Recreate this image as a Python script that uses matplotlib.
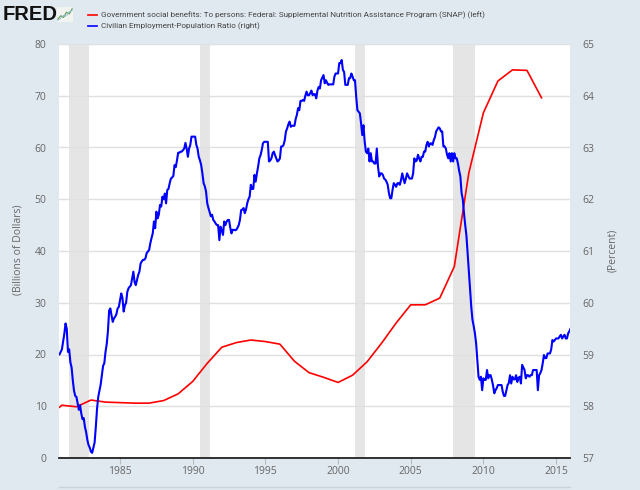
import numpy as np
import matplotlib
matplotlib.use("Agg")
import matplotlib.pyplot as plt
from matplotlib.lines import Line2D

plt.rcParams['font.family'] = ['Open Sans', 'DejaVu Sans']

# ---------------- data ----------------
snap_years = list(range(1980, 2015))
snap_values = [8.0, 10.2, 9.9, 11.2, 10.8, 10.7, 10.6, 10.6, 11.1, 12.4, 14.8,
               18.3, 21.4, 22.3, 22.8, 22.5, 22.0, 18.7, 16.5, 15.6, 14.6,
               16.0, 18.6, 22.2, 26.1, 29.6, 29.6, 30.9, 37.0, 55.1, 66.7,
               72.85, 75.0, 74.9, 69.6]

# Civilian employment-population ratio, monthly, starting October 1980
emp_start_year = 1980
emp_start_month = 10
emp_ratio = [
    59.00, 59.00, 59.05,                                                         # 1980 Oct-Dec
    59.10, 59.25, 59.40, 59.60, 59.50, 59.05, 59.10, 58.85, 58.75, 58.50, 58.30, 58.20,  # 1981
    58.18, 58.06, 57.93, 58.02, 57.86, 57.75, 57.77, 57.60, 57.50, 57.35, 57.25, 57.20,  # 1982
    57.12, 57.10, 57.20, 57.30, 57.60, 57.95, 58.18, 58.30, 58.42, 58.60, 58.78, 58.83,  # 1983
    59.05, 59.20, 59.45, 59.85, 59.89, 59.75, 59.63, 59.70, 59.73, 59.78, 59.89, 59.92,  # 1984
    60.05, 60.18, 60.09, 59.83, 59.95, 60.00, 60.21, 60.28, 60.31, 60.34, 60.47, 60.60,  # 1985
    60.40, 60.34, 60.44, 60.54, 60.60, 60.76, 60.80, 60.83, 60.83, 60.86, 60.96, 60.99,  # 1986
    61.02, 61.15, 61.25, 61.34, 61.57, 61.44, 61.76, 61.63, 61.70, 61.89, 61.86, 62.05,  # 1987
    62.00, 62.11, 61.92, 62.18, 62.20, 62.31, 62.40, 62.42, 62.45, 62.66, 62.62, 62.75,  # 1988
    62.90, 62.90, 62.92, 62.92, 62.95, 62.98, 63.09, 62.98, 62.82, 62.98, 63.05, 63.21,  # 1989
    63.21, 63.21, 63.21, 63.05, 62.98, 62.82, 62.75, 62.66, 62.50, 62.31, 62.25, 62.15,  # 1990
    61.92, 61.83, 61.75, 61.67, 61.70, 61.60, 61.57, 61.53, 61.50, 61.50, 61.21, 61.47,  # 1991
    61.40, 61.31, 61.57, 61.50, 61.57, 61.60, 61.60, 61.45, 61.34, 61.41, 61.41, 61.40,  # 1992
    61.41, 61.45, 61.50, 61.60, 61.79, 61.80, 61.83, 61.73, 61.80, 61.92, 62.00, 62.05,  # 1993
    62.28, 62.20, 62.20, 62.47, 62.34, 62.50, 62.63, 62.79, 62.85, 62.95, 63.08, 63.11,  # 1994
    63.11, 63.11, 63.11, 62.73, 62.75, 62.79, 62.89, 62.92, 62.85, 62.79, 62.73, 62.75,  # 1995
    62.79, 63.02, 63.02, 63.05, 63.14, 63.31, 63.37, 63.45, 63.50, 63.40, 63.42, 63.42,  # 1996
    63.42, 63.55, 63.63, 63.76, 63.72, 63.90, 63.90, 63.92, 63.90, 64.00, 64.08, 64.01,  # 1997
    64.01, 64.05, 64.10, 64.01, 64.03, 64.03, 63.95, 64.10, 64.17, 64.14, 64.30, 64.35,  # 1998
    64.40, 64.24, 64.30, 64.25, 64.21, 64.22, 64.22, 64.22, 64.22, 64.37, 64.43, 64.43,  # 1999
    64.43, 64.63, 64.63, 64.69, 64.50, 64.46, 64.21, 64.21, 64.21, 64.34, 64.34, 64.43,  # 2000
    64.37, 64.30, 64.30, 63.98, 63.72, 63.69, 63.66, 63.47, 63.24, 63.43, 63.11, 62.92,  # 2001
    62.89, 62.98, 62.73, 62.89, 62.73, 62.73, 62.69, 62.69, 62.98, 62.63, 62.44, 62.50,  # 2002
    62.50, 62.47, 62.40, 62.38, 62.34, 62.28, 62.12, 62.02, 62.02, 62.18, 62.31, 62.28,  # 2003
    62.24, 62.31, 62.31, 62.28, 62.37, 62.50, 62.40, 62.31, 62.40, 62.50, 62.45, 62.40,  # 2004
    62.40, 62.40, 62.50, 62.79, 62.73, 62.75, 62.86, 62.79, 62.73, 62.82, 62.82, 62.92,  # 2005
    62.92, 63.05, 63.11, 63.02, 63.08, 63.08, 63.05, 63.14, 63.20, 63.31, 63.35, 63.39,  # 2006
    63.37, 63.31, 63.31, 63.02, 63.02, 62.98, 62.86, 62.79, 62.89, 62.73, 62.89, 62.73,  # 2007
    62.89, 62.79, 62.79, 62.69, 62.55, 62.44, 62.12, 62.00, 61.73, 61.50, 61.30, 60.96,  # 2008
    60.60, 60.30, 59.92, 59.67, 59.55, 59.41, 59.22, 58.89, 58.57, 58.51, 58.57, 58.31,  # 2009
    58.54, 58.51, 58.51, 58.70, 58.54, 58.60, 58.60, 58.51, 58.40, 58.25, 58.31, 58.35,  # 2010
    58.41, 58.41, 58.41, 58.41, 58.28, 58.20, 58.20, 58.31, 58.41, 58.45, 58.60, 58.44,  # 2011
    58.57, 58.52, 58.52, 58.60, 58.47, 58.55, 58.57, 58.44, 58.80, 58.75, 58.70, 58.54,  # 2012
    58.60, 58.60, 58.57, 58.60, 58.60, 58.70, 58.70, 58.70, 58.70, 58.31, 58.60, 58.64,  # 2013
    58.70, 58.83, 58.99, 58.93, 58.93, 59.02, 59.02, 59.02, 59.10, 59.28, 59.25, 59.28,  # 2014
    59.31, 59.31, 59.31, 59.35, 59.38, 59.31, 59.35, 59.38, 59.31, 59.31, 59.41, 59.45,  # 2015
    59.50,                                                                       # 2016 Jan
]

# NBER recessions (start, end) as fractional years
recessions = [(1981 + 6/12, 1982 + 10/12), (1990 + 6/12, 1991 + 2/12),
              (2001 + 2/12, 2001 + 10/12), (2007 + 11/12, 2009 + 5/12)]

x_ticks = [1985, 1990, 1995, 2000, 2005, 2010, 2015]
left_ticks = [0, 10, 20, 30, 40, 50, 60, 70, 80]
right_ticks = [57, 58, 59, 60, 61, 62, 63, 64, 65]

legend_labels = [
    "Government social benefits: To persons: Federal: Supplemental Nutrition Assistance Program (SNAP) (left)",
    "Civilian Employment-Population Ratio (right)",
]

# ---------------- figure ----------------
BG = '#e1e9f0'
TICK_C = '#666666'
fig = plt.figure(figsize=(6.4, 4.9), dpi=100, facecolor=BG)
W, H = 640, 490
ax = fig.add_axes([59 / W, 1 - 458 / H, 511 / W, 414 / H])
ax.set_facecolor('white')

for s, e in recessions:
    ax.axvspan(s, e, color='#e5e5e5', lw=0, zorder=0)

ax.set_xlim(1980.80, 2015.96)
ax.set_ylim(0, 80)
ax.set_yticks(left_ticks)
ax.set_xticks(x_ticks)
ax.yaxis.grid(True, color='#e0e0e0', lw=1.0, zorder=0.5)
ax.set_axisbelow(True)
for sp in ['top', 'right', 'left']:
    ax.spines[sp].set_visible(False)
ax.spines['bottom'].set_color('#222222')
ax.spines['bottom'].set_linewidth(1.3)
ax.spines['bottom'].set_zorder(5)
ax.tick_params(axis='y', length=0, pad=9, labelsize=7.5, labelcolor=TICK_C)
ax.tick_params(axis='x', length=4, width=0.8, color='#bbbbbb', pad=2,
               labelsize=7.5, labelcolor=TICK_C)

ax.plot(snap_years, snap_values, color='#ff0000', lw=1.2, zorder=3, clip_on=True)

ax2 = ax.twinx()
ax2.set_ylim(57, 65)
ax2.set_yticks(right_ticks)
for sp in ['top', 'right', 'left', 'bottom']:
    ax2.spines[sp].set_visible(False)
ax2.tick_params(axis='y', length=0, pad=9, labelsize=7.5, labelcolor=TICK_C)
ax2.patch.set_visible(False)

emp_x = emp_start_year + (emp_start_month - 1) / 12 + np.arange(len(emp_ratio)) / 12
ax2.plot(emp_x, emp_ratio, color='#0000ff', lw=1.5, zorder=4)
ax2.set_xlim(ax.get_xlim())

fig.text(18 / W, 1 - 250 / H, '(Billions of Dollars)', rotation=90, ha='center',
         va='center', fontsize=7.5, color=TICK_C)
fig.text(613 / W, 1 - 250 / H, '(Percent)', rotation=90, ha='center',
         va='center', fontsize=7.5, color=TICK_C)

# legend
leg_colors = ['#ff0000', '#0000ff']
for i, (lab, c) in enumerate(zip(legend_labels, leg_colors)):
    yy = 1 - (15 + 10.7 * i) / H
    fig.add_artist(Line2D([88 / W, 97 / W], [yy, yy], color=c, lw=1.2))
    fig.text(101 / W, yy, lab, ha='left', va='center', fontsize=5.9,
             family=['Roboto', 'DejaVu Sans'], color='#444444')

# FRED logo with small chart icon
fig.text(3 / W, 1 - 14 / H, 'FRED', ha='left', va='center', fontsize=14.5,
         fontweight='bold', family=['Liberation Sans', 'DejaVu Sans'], color='#111111')
icon = fig.add_axes([57 / W, 1 - 22 / H, 16 / W, 15 / H])
icon.set_facecolor('#f2f4f2')
icon.plot([0, 1, 2, 3, 4, 5], [0.5, 1.5, 1.0, 2.5, 2.0, 3.5], color='#5b9a4a', lw=0.8)
icon.plot([0, 1, 2, 3, 4, 5], [0.2, 0.8, 1.6, 1.4, 2.6, 3.0], color='#8fb7d6', lw=0.6)
icon.set_xlim(-0.3, 5.3)
icon.set_ylim(-0.3, 4)
icon.set_xticks([])
icon.set_yticks([])
for sp in icon.spines.values():
    sp.set_visible(False)

# range-slider strip at the bottom edge
fig.add_artist(Line2D([59 / W, 570 / W], [1 - 487 / H, 1 - 487 / H],
                      color='#c9d2da', lw=1.0))

plt.savefig('out.png', dpi=100, facecolor=BG)
